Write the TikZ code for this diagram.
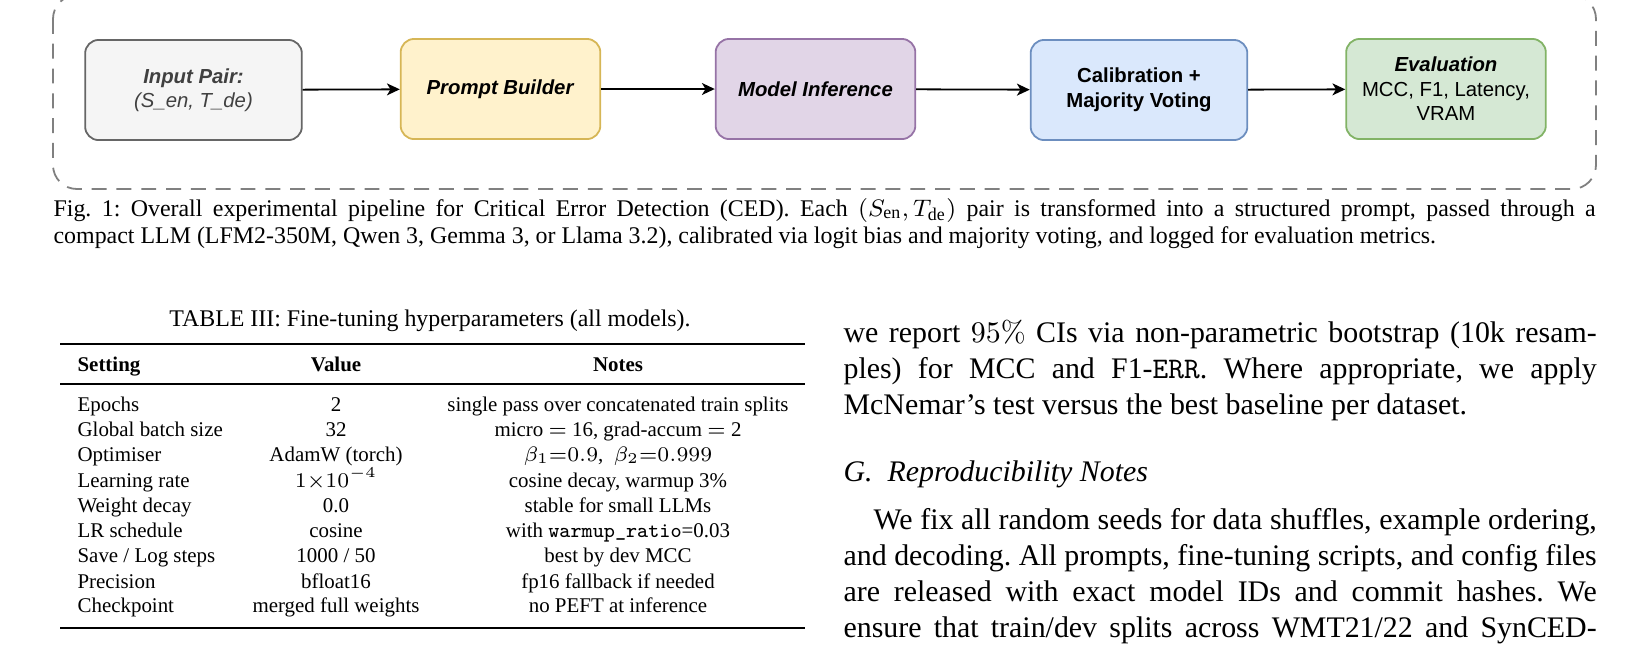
\documentclass[tikz,border=0pt]{standalone}
\usepackage{amsmath}
\usepackage[no-math]{fontspec}
\setmainfont{Liberation Serif}
\newfontfamily\flowfont{Liberation Sans}
\usetikzlibrary{arrows.meta}
\frenchspacing
\definecolor{framegray}{HTML}{808080}
\definecolor{softtext}{HTML}{404040}
\definecolor{grayfill}{HTML}{F5F5F5}
\definecolor{graydraw}{HTML}{666666}
\definecolor{yellowfill}{HTML}{FFF2CC}
\definecolor{yellowdraw}{HTML}{D6B656}
\definecolor{purplefill}{HTML}{E1D5E7}
\definecolor{purpledraw}{HTML}{9673A6}
\definecolor{bluefill}{HTML}{DAE8FC}
\definecolor{bluedraw}{HTML}{6C8EBF}
\definecolor{greenfill}{HTML}{D5E8D4}
\definecolor{greendraw}{HTML}{82B366}

\begin{document}
\begin{tikzpicture}[
  x=0.3346pt,y=-0.3346pt,
  font=\fontsize{10}{12}\selectfont,
  stage/.style={rectangle,rounded corners=4.5pt,draw,line width=0.6pt,minimum height=33.5pt,inner sep=2pt,align=center,font=\flowfont\fontsize{6.8}{8.2}\selectfont},
  widebox/.style={stage,minimum width=72.5pt},
  narrowbox/.style={stage,minimum width=66.8pt},
  pipeframe/.style={draw=framegray,line width=0.6pt,dash pattern=on 5pt off 3.3pt,rounded corners=8pt},
  txt/.style={anchor=base west,inner sep=0pt},
  captext/.style={txt,font=\fontsize{8}{9}\selectfont},
  cell/.style={anchor=base,inner sep=0pt,font=\fontsize{7}{8.4}\selectfont},
  cellL/.style={cell,anchor=base west},
  >={Stealth[length=4.3pt,width=4pt,inset=1.2pt]}]

\useasboundingbox (0,0) rectangle (1643,657);

% pipeline
\begin{scope}
\clip (0,0) rectangle (1643,657);
\draw[pipeframe] (53,-5) rectangle (1596,189);
\end{scope}

\node[widebox,fill=grayfill,draw=graydraw,text=softtext] (inp) at (193.5,90) {\textbf{\textit{Input Pair:}}\\\textit{(S\_en, T\_de)}};
\node[narrowbox,fill=yellowfill,draw=yellowdraw] (pb) at (500.5,89) {\textbf{\textit{Prompt Builder}}};
\node[narrowbox,fill=purplefill,draw=purpledraw] (mi) at (815.5,89) {\textbf{\textit{Model Inference}}};
\node[widebox,fill=bluefill,draw=bluedraw] (cal) at (1139,90) {\textbf{Calibration +}\\\textbf{Majority Voting}};
\node[narrowbox,fill=greenfill,draw=greendraw] (ev) at (1446,89) {\textbf{\textit{Evaluation}}\\MCC, F1, Latency,\\VRAM};

\draw[->,line width=0.6pt] (inp) -- (pb);
\draw[->,line width=0.6pt] (pb) -- (mi);
\draw[->,line width=0.6pt] (mi) -- (cal);
\draw[->,line width=0.6pt] (cal) -- (ev);

% caption
\node[captext] (cap1) at (53,216) {\makebox[516pt][s]{Fig. 1: Overall experimental pipeline for Critical Error Detection (CED). Each $(S_{\text{en}},T_{\text{de}})$ pair is transformed into a structured prompt, passed through a}};
\node[captext] (cap2) at (53,243) {compact LLM (LFM2-350M, Qwen 3, Gemma 3, or Llama 3.2), calibrated via logit bias and majority voting, and logged for evaluation metrics.};

% table
\node[anchor=base,inner sep=0pt,font=\fontsize{8}{9}\selectfont] (ttl) at (430,326) {TABLE III: Fine-tuning hyperparameters (all models).};
\draw[line width=0.8pt] (60,344) -- (805,344);
\draw[line width=0.5pt] (60,384) -- (805,384);
\draw[line width=0.8pt] (60,628) -- (805,628);

\node[cellL] (hs) at (77,371) {\textbf{Setting}};
\node[cell] (hv) at (336,371) {\textbf{Value}};
\node[cell] (hn) at (618,371) {\textbf{Notes}};

\node[cellL] (s1) at (77,411) {Epochs};
\node[cell] (v1) at (336,411) {2};
\node[cell] (n1) at (618,411) {single pass over concatenated train splits};
\node[cellL] (s2) at (77,436) {Global batch size};
\node[cell] (v2) at (336,436) {32};
\node[cell] (n2) at (618,436) {micro $=$ 16, grad-accum $=$ 2};
\node[cellL] (s3) at (77,461) {Optimiser};
\node[cell] (v3) at (336,461) {AdamW (torch)};
\node[cell] (n3) at (618,461) {$\beta_1{=}0.9$,\ \ $\beta_2{=}0.999$};
\node[cellL] (s4) at (77,487) {Learning rate};
\node[cell] (v4) at (336,487) {$1{\times}10^{-4}$};
\node[cell] (n4) at (618,487) {cosine decay, warmup 3\%};
\node[cellL] (s5) at (77,512) {Weight decay};
\node[cell] (v5) at (336,512) {0.0};
\node[cell] (n5) at (618,512) {stable for small LLMs};
\node[cellL] (s6) at (77,537) {LR schedule};
\node[cell] (v6) at (336,537) {cosine};
\node[cell] (n6) at (618,537) {with \texttt{warmup\_ratio}=0.03};
\node[cellL] (s7) at (77,562) {Save / Log steps};
\node[cell] (v7) at (336,562) {1000 / 50};
\node[cell] (n7) at (618,562) {best by dev MCC};
\node[cellL] (s8) at (77,588) {Precision};
\node[cell] (v8) at (336,588) {bfloat16};
\node[cell] (n8) at (618,588) {fp16 fallback if needed};
\node[cellL] (s9) at (77,612) {Checkpoint};
\node[cell] (v9) at (336,612) {merged full weights};
\node[cell] (n9) at (618,612) {no PEFT at inference};

% right column
\node[txt] (pa1) at (843,342) {\makebox[252pt][s]{we report $95\%$ CIs via non-parametric bootstrap (10k resam-}};
\node[txt] (pa2) at (843,378) {\makebox[252pt][s]{ples) for MCC and F1-\texttt{ERR}. Where appropriate, we apply}};
\node[txt] (pa3) at (843,414) {McNemar's test versus the best baseline per dataset.};

\node[txt] (sec) at (843,481) {\textit{G.\hspace{0.5em}Reproducibility Notes}};

\node[txt] (pb1) at (873,529) {\makebox[242pt][s]{We fix all random seeds for data shuffles, example ordering,}};
\node[txt] (pb2) at (843,565) {\makebox[252pt][s]{and decoding. All prompts, fine-tuning scripts, and config files}};
\node[txt] (pb3) at (843,601) {\makebox[252pt][s]{are released with exact model IDs and commit hashes. We}};
\node[txt] (pb4) at (843,637) {\makebox[252pt][s]{ensure that train/dev splits across WMT21/22 and SynCED-}};
\end{tikzpicture}
\end{document}
